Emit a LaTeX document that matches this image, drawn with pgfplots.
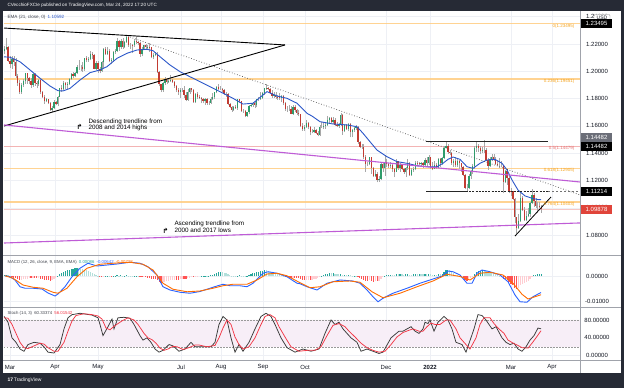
\documentclass[border=0pt]{standalone}
\usepackage{pgfplots}
\pgfplotsset{compat=1.18}
\usepackage{pgfplotstable}
\usepackage{fontspec}
\setmainfont{Liberation Sans}
\newfontfamily\dejavu{DejaVu Sans}
\newcommand{\fs}[1]{\fontsize{#1}{#1}\selectfont}
\definecolor{frame}{HTML}{262A35}
\definecolor{gridc}{HTML}{EEF0F5}
\definecolor{upc}{HTML}{2F9C6B}
\definecolor{dnc}{HTML}{C23B32}
\definecolor{wickc}{HTML}{A8A8A8}
\definecolor{emac}{HTML}{2B57C9}
\definecolor{fibo}{HTML}{FFCC80}
\definecolor{fibotext}{HTML}{F5A623}
\definecolor{fibr}{HTML}{F2A7A7}
\definecolor{fibrtext}{HTML}{E57373}
\definecolor{magc}{HTML}{BF5CD6}
\definecolor{macdc}{HTML}{2962FF}
\definecolor{sigc}{HTML}{FF6D00}
\definecolor{hg}{HTML}{26A69A}
\definecolor{hlg}{HTML}{B2DFDB}
\definecolor{hr}{HTML}{FF5252}
\definecolor{hp}{HTML}{FFCDD2}
\definecolor{stk}{HTML}{3A3A3A}
\definecolor{std}{HTML}{F23645}
\definecolor{band}{HTML}{F7EEF7}
\definecolor{pricered}{HTML}{E0443A}
\definecolor{boxgray}{HTML}{6B6E78}
\definecolor{sep}{HTML}{A0A3AB}
\definecolor{txt}{HTML}{131722}

\pgfplotstableread{
i o h l c
-3 1.2150 1.2185 1.2125 1.2165
-2 1.2165 1.2243 1.2155 1.2175
-1 1.2175 1.2185 1.2065 1.2075
0 1.2075 1.2113 1.2025 1.2050
1 1.2050 1.2110 1.2020 1.2090
2 1.2090 1.2113 1.2040 1.2065
3 1.2065 1.2095 1.1950 1.1965
4 1.1965 1.1980 1.1893 1.1915
5 1.1915 1.1935 1.1836 1.1845
6 1.1845 1.1915 1.1835 1.1900
7 1.1900 1.1945 1.1885 1.1930
8 1.1930 1.1990 1.1910 1.1985
9 1.1985 1.1990 1.1910 1.1950
10 1.1950 1.1960 1.1905 1.1930
11 1.1930 1.1950 1.1880 1.1900
12 1.1900 1.1990 1.1885 1.1980
13 1.1980 1.1990 1.1895 1.1915
14 1.1915 1.1930 1.1875 1.1905
15 1.1905 1.1945 1.1895 1.1935
16 1.1935 1.1942 1.1835 1.1850
17 1.1850 1.1855 1.1805 1.1815
18 1.1815 1.1830 1.1763 1.1780
19 1.1780 1.1805 1.1775 1.1795
20 1.1795 1.1800 1.1760 1.1765
21 1.1765 1.1775 1.1712 1.1720
22 1.1720 1.1745 1.1704 1.1730
23 1.1730 1.1790 1.1725 1.1775
24 1.1775 1.1785 1.1750 1.1760
25 1.1760 1.1820 1.1745 1.1815
26 1.1815 1.1880 1.1810 1.1875
27 1.1875 1.1900 1.1850 1.1870
28 1.1870 1.1930 1.1860 1.1915
29 1.1915 1.1925 1.1870 1.1900
30 1.1900 1.1920 1.1870 1.1910
31 1.1910 1.1950 1.1900 1.1945
32 1.1945 1.1990 1.1935 1.1980
33 1.1980 1.1995 1.1950 1.1965
34 1.1965 1.1995 1.1955 1.1985
35 1.1985 1.2048 1.1980 1.2035
36 1.2035 1.2080 1.2010 1.2035
37 1.2035 1.2045 1.2000 1.2035
38 1.2035 1.2070 1.1995 1.2015
39 1.2015 1.2100 1.2005 1.2095
40 1.2095 1.2115 1.2065 1.2080
41 1.2080 1.2105 1.2070 1.2090
42 1.2090 1.2150 1.2080 1.2125
43 1.2125 1.2140 1.2090 1.2120
44 1.2120 1.2130 1.2015 1.2020
45 1.2020 1.2075 1.2010 1.2060
46 1.2060 1.2075 1.1990 1.2015
47 1.2015 1.2030 1.1985 1.2005
48 1.2005 1.2075 1.1995 1.2065
49 1.2065 1.2172 1.2025 1.2165
50 1.2165 1.2180 1.2120 1.2130
51 1.2130 1.2180 1.2120 1.2150
52 1.2150 1.2160 1.2065 1.2075
53 1.2075 1.2095 1.2050 1.2080
54 1.2080 1.2150 1.2070 1.2145
55 1.2145 1.2165 1.2125 1.2150
56 1.2150 1.2245 1.2140 1.2225
57 1.2225 1.2230 1.2150 1.2175
58 1.2175 1.2235 1.2165 1.2225
59 1.2225 1.2245 1.2165 1.2180
60 1.2180 1.2225 1.2170 1.2215
61 1.2215 1.2266 1.2210 1.2250
62 1.2250 1.2260 1.2180 1.2195
63 1.2195 1.2210 1.2165 1.2195
64 1.2195 1.2200 1.2135 1.2190
65 1.2190 1.2240 1.2180 1.2225
66 1.2225 1.2255 1.2200 1.2215
67 1.2215 1.2225 1.2190 1.2210
68 1.2210 1.2215 1.2105 1.2125
69 1.2125 1.2180 1.2110 1.2165
70 1.2165 1.2195 1.2155 1.2190
71 1.2190 1.2200 1.2165 1.2175
72 1.2175 1.2195 1.2165 1.2180
73 1.2180 1.2205 1.2145 1.2175
74 1.2175 1.2180 1.2095 1.2105
75 1.2105 1.2135 1.2090 1.2120
76 1.2120 1.2140 1.2110 1.2125
77 1.2125 1.2140 1.1985 1.1995
78 1.1995 1.2005 1.1890 1.1905
79 1.1905 1.1910 1.1847 1.1860
80 1.1860 1.1925 1.1850 1.1915
81 1.1915 1.1955 1.1900 1.1940
82 1.1940 1.1945 1.1905 1.1925
83 1.1925 1.1940 1.1915 1.1930
84 1.1930 1.1975 1.1920 1.1935
85 1.1935 1.1945 1.1915 1.1925
86 1.1925 1.1930 1.1880 1.1895
87 1.1895 1.1900 1.1850 1.1860
88 1.1860 1.1880 1.1830 1.1845
89 1.1845 1.1875 1.1805 1.1865
90 1.1865 1.1880 1.1850 1.1865
91 1.1865 1.1895 1.1805 1.1825
92 1.1825 1.1850 1.1780 1.1790
93 1.1790 1.1870 1.1785 1.1845
94 1.1845 1.1880 1.1835 1.1875
95 1.1875 1.1880 1.1845 1.1860
96 1.1860 1.1870 1.1770 1.1775
97 1.1775 1.1840 1.1770 1.1835
98 1.1835 1.1850 1.1795 1.1810
99 1.1810 1.1830 1.1795 1.1805
100 1.1805 1.1815 1.1765 1.1800
101 1.1800 1.1805 1.1765 1.1780
102 1.1780 1.1805 1.1755 1.1795
103 1.1795 1.1805 1.1755 1.1770
104 1.1770 1.1785 1.1755 1.1770
105 1.1770 1.1810 1.1760 1.1800
106 1.1800 1.1840 1.1790 1.1815
107 1.1815 1.1850 1.1800 1.1845
108 1.1845 1.1895 1.1840 1.1885
109 1.1885 1.1910 1.1865 1.1870
110 1.1870 1.1890 1.1860 1.1870
111 1.1870 1.1880 1.1850 1.1865
112 1.1865 1.1870 1.1825 1.1835
113 1.1835 1.1850 1.1815 1.1835
114 1.1835 1.1840 1.1755 1.1760
115 1.1760 1.1765 1.1730 1.1735
116 1.1735 1.1745 1.1705 1.1720
117 1.1720 1.1745 1.1710 1.1740
118 1.1740 1.1755 1.1725 1.1730
119 1.1730 1.1800 1.1720 1.1795
120 1.1795 1.1800 1.1770 1.1780
121 1.1780 1.1785 1.1705 1.1710
122 1.1710 1.1725 1.1695 1.1710
123 1.1710 1.1715 1.1665 1.1675
124 1.1675 1.1705 1.1665 1.1700
125 1.1700 1.1755 1.1690 1.1745
126 1.1745 1.1765 1.1735 1.1755
127 1.1755 1.1775 1.1740 1.1770
128 1.1770 1.1780 1.1730 1.1750
129 1.1750 1.1800 1.1735 1.1795
130 1.1795 1.1810 1.1780 1.1795
131 1.1795 1.1845 1.1790 1.1805
132 1.1805 1.1845 1.1800 1.1840
133 1.1840 1.1880 1.1830 1.1875
134 1.1875 1.1909 1.1860 1.1880
135 1.1880 1.1885 1.1860 1.1870
136 1.1870 1.1875 1.1835 1.1840
137 1.1840 1.1860 1.1805 1.1820
138 1.1820 1.1845 1.1805 1.1830
139 1.1830 1.1850 1.1800 1.1815
140 1.1815 1.1830 1.1790 1.1810
141 1.1810 1.1840 1.1790 1.1805
142 1.1805 1.1830 1.1775 1.1820
143 1.1820 1.1825 1.1750 1.1765
144 1.1765 1.1775 1.1710 1.1725
145 1.1725 1.1745 1.1700 1.1725
146 1.1725 1.1750 1.1710 1.1725
147 1.1725 1.1745 1.1685 1.1690
148 1.1690 1.1750 1.1680 1.1740
149 1.1740 1.1755 1.1700 1.1720
150 1.1720 1.1725 1.1680 1.1695
151 1.1695 1.1715 1.1670 1.1685
152 1.1685 1.1690 1.1595 1.1600
153 1.1600 1.1620 1.1565 1.1580
154 1.1580 1.1610 1.1565 1.1595
155 1.1595 1.1640 1.1585 1.1620
156 1.1620 1.1625 1.1575 1.1595
157 1.1595 1.1600 1.1530 1.1555
158 1.1555 1.1580 1.1545 1.1555
159 1.1555 1.1595 1.1545 1.1570
160 1.1570 1.1580 1.1540 1.1550
161 1.1550 1.1560 1.1524 1.1530
162 1.1530 1.1605 1.1525 1.1595
163 1.1595 1.1625 1.1585 1.1595
164 1.1595 1.1625 1.1575 1.1600
165 1.1600 1.1625 1.1580 1.1605
166 1.1605 1.1670 1.1600 1.1640
167 1.1640 1.1665 1.1620 1.1655
168 1.1655 1.1665 1.1620 1.1625
169 1.1625 1.1665 1.1615 1.1645
170 1.1645 1.1655 1.1600 1.1610
171 1.1610 1.1625 1.1590 1.1600
172 1.1600 1.1620 1.1585 1.1605
173 1.1605 1.1692 1.1600 1.1680
174 1.1680 1.1690 1.1535 1.1560
175 1.1560 1.1615 1.1555 1.1605
176 1.1605 1.1615 1.1570 1.1580
177 1.1580 1.1620 1.1560 1.1615
178 1.1615 1.1620 1.1515 1.1555
179 1.1555 1.1580 1.1515 1.1570
180 1.1570 1.1595 1.1555 1.1585
181 1.1585 1.1610 1.1570 1.1595
182 1.1595 1.1600 1.1470 1.1480
183 1.1480 1.1490 1.1435 1.1445
184 1.1445 1.1465 1.1430 1.1445
185 1.1445 1.1465 1.1360 1.1370
186 1.1370 1.1385 1.1265 1.1320
187 1.1320 1.1335 1.1305 1.1320
188 1.1320 1.1375 1.1310 1.1370
189 1.1370 1.1375 1.1250 1.1290
190 1.1290 1.1300 1.1225 1.1235
191 1.1235 1.1275 1.1225 1.1250
192 1.1250 1.1265 1.1186 1.1200
193 1.1200 1.1230 1.1190 1.1210
194 1.1210 1.1330 1.1205 1.1320
195 1.1320 1.1330 1.1260 1.1290
196 1.1290 1.1385 1.1235 1.1335
197 1.1335 1.1355 1.1300 1.1320
198 1.1320 1.1330 1.1295 1.1305
199 1.1305 1.1335 1.1290 1.1315
200 1.1315 1.1320 1.1265 1.1285
201 1.1285 1.1295 1.1225 1.1265
202 1.1265 1.1355 1.1260 1.1340
203 1.1340 1.1345 1.1280 1.1290
204 1.1290 1.1325 1.1265 1.1315
205 1.1315 1.1320 1.1275 1.1285
206 1.1285 1.1295 1.1250 1.1260
207 1.1260 1.1300 1.1225 1.1290
208 1.1290 1.1360 1.1280 1.1330
209 1.1330 1.1335 1.1235 1.1240
210 1.1240 1.1295 1.1235 1.1280
211 1.1280 1.1300 1.1265 1.1285
212 1.1285 1.1345 1.1275 1.1330
213 1.1330 1.1345 1.1305 1.1325
214 1.1325 1.1335 1.1310 1.1320
215 1.1320 1.1335 1.1305 1.1330
216 1.1330 1.1335 1.1290 1.1310
217 1.1310 1.1365 1.1305 1.1350
218 1.1350 1.1370 1.1300 1.1325
219 1.1325 1.1385 1.1315 1.1370
220 1.1370 1.1375 1.1285 1.1300
221 1.1300 1.1335 1.1275 1.1285
222 1.1285 1.1345 1.1285 1.1315
223 1.1315 1.1330 1.1285 1.1295
224 1.1295 1.1365 1.1290 1.1360
225 1.1360 1.1365 1.1300 1.1325
226 1.1325 1.1375 1.1315 1.1365
227 1.1365 1.1450 1.1355 1.1440
228 1.1440 1.1482 1.1435 1.1455
229 1.1455 1.1465 1.1395 1.1410
230 1.1410 1.1420 1.1385 1.1405
231 1.1405 1.1410 1.1315 1.1325
232 1.1325 1.1355 1.1300 1.1345
233 1.1345 1.1370 1.1300 1.1310
234 1.1310 1.1365 1.1300 1.1345
235 1.1345 1.1350 1.1285 1.1325
236 1.1325 1.1330 1.1265 1.1300
237 1.1300 1.1305 1.1235 1.1240
238 1.1240 1.1245 1.1135 1.1145
239 1.1145 1.1175 1.1121 1.1145
240 1.1145 1.1250 1.1140 1.1235
241 1.1235 1.1275 1.1210 1.1270
242 1.1270 1.1320 1.1250 1.1305
243 1.1305 1.1450 1.1285 1.1440
244 1.1440 1.1485 1.1410 1.1455
245 1.1455 1.1465 1.1410 1.1440
246 1.1440 1.1455 1.1395 1.1415
247 1.1415 1.1445 1.1400 1.1425
248 1.1425 1.1495 1.1400 1.1425
249 1.1425 1.1435 1.1340 1.1350
250 1.1350 1.1365 1.1280 1.1305
251 1.1305 1.1370 1.1300 1.1355
252 1.1355 1.1395 1.1340 1.1375
253 1.1375 1.1395 1.1345 1.1360
254 1.1360 1.1370 1.1315 1.1320
255 1.1320 1.1345 1.1305 1.1310
256 1.1310 1.1365 1.1290 1.1310
257 1.1310 1.1345 1.1300 1.1310
258 1.1310 1.1315 1.1106 1.1190
259 1.1190 1.1275 1.1180 1.1270
260 1.1270 1.1275 1.1170 1.1220
261 1.1220 1.1245 1.1105 1.1125
262 1.1125 1.1145 1.1090 1.1120
263 1.1120 1.1125 1.1055 1.1065
264 1.1065 1.1070 1.0885 1.0930
265 1.0930 1.0935 1.0806 1.0855
266 1.0855 1.0955 1.0845 1.0900
267 1.0900 1.1121 1.0895 1.1075
268 1.1075 1.1085 1.0975 1.0985
269 1.0985 1.1005 1.0905 1.0910
270 1.0910 1.0975 1.0900 1.0940
271 1.0940 1.1000 1.0930 1.0955
272 1.0955 1.1045 1.0935 1.1035
273 1.1035 1.1137 1.1025 1.1095
274 1.1095 1.1110 1.1005 1.1050
275 1.1050 1.1070 1.1000 1.1015
276 1.1015 1.1045 1.0965 1.1015
277 1.1015 1.1045 1.0995 1.1005
278 1.1005 1.1020 1.0965 1.0988
}\candles

\pgfplotstableread[row sep=\\]{
i v k\\
-3 0.0004 0\\ -2 0.0005 0\\ -1 0.0004 1\\ 0 0.0002 1\\ 1 -0.0002 2\\ 2 -0.0005 2\\ 3 -0.0008 2\\ 4 -0.0011 2\\
5 -0.0014 2\\ 6 -0.0013 3\\ 7 -0.0012 3\\ 8 -0.0010 3\\ 9 -0.0009 3\\ 10 -0.0008 3\\ 11 -0.0008 2\\ 12 -0.0006 3\\
13 -0.0007 2\\ 14 -0.0008 2\\ 15 -0.0007 3\\ 16 -0.0009 2\\ 17 -0.0011 2\\ 18 -0.0013 2\\ 19 -0.0015 2\\ 20 -0.0016 2\\
21 -0.0017 2\\ 22 -0.0014 3\\ 23 -0.0010 3\\ 24 -0.0005 3\\ 25 0.0001 0\\ 26 0.0008 0\\ 27 0.0013 0\\ 28 0.0018 0\\
29 0.0021 0\\ 30 0.0024 0\\ 31 0.0027 0\\ 32 0.0029 0\\ 33 0.0031 0\\ 34 0.0033 0\\ 35 0.0034 0\\ 36 0.0033 1\\
37 0.0031 1\\ 38 0.0028 1\\ 39 0.0027 1\\ 40 0.0024 1\\ 41 0.0020 1\\ 42 0.0017 1\\ 43 0.0014 1\\ 44 0.0010 1\\
45 0.0006 1\\ 46 0.0002 1\\ 47 -0.0002 2\\ 48 -0.0004 2\\ 49 -0.0002 3\\ 50 0.0001 0\\ 51 0.0002 0\\ 52 0.0001 1\\
53 -0.0001 2\\ 54 0.0001 0\\ 55 0.0002 0\\ 56 0.0004 0\\ 57 0.0003 1\\ 58 0.0004 0\\ 59 0.0003 1\\ 60 0.0003 0\\
61 0.0005 0\\ 62 0.0003 1\\ 63 0.0002 1\\ 64 0.0001 1\\ 65 0.0001 0\\ 66 0.0002 0\\ 67 0.0001 1\\ 68 -0.0003 2\\
69 -0.0004 2\\ 70 -0.0003 3\\ 71 -0.0004 2\\ 72 -0.0006 2\\ 73 -0.0006 2\\ 74 -0.0009 2\\ 75 -0.0010 2\\ 76 -0.0011 2\\
77 -0.0016 2\\ 78 -0.0021 2\\ 79 -0.0025 2\\ 80 -0.0024 3\\ 81 -0.0022 3\\ 82 -0.0020 3\\ 83 -0.0018 3\\ 84 -0.0016 3\\
85 -0.0014 3\\ 86 -0.0013 3\\ 87 -0.0013 2\\ 88 -0.0013 2\\ 89 -0.0011 3\\ 90 -0.0009 3\\ 91 -0.0009 2\\ 92 -0.0010 2\\
93 -0.0008 3\\ 94 -0.0005 3\\ 95 -0.0003 3\\ 96 -0.0004 2\\ 97 -0.0002 3\\ 98 -0.0001 3\\ 100 0.0002 0\\ 101 0.0002 0\\
102 0.0003 0\\ 103 0.0002 1\\ 104 0.0003 0\\ 105 0.0005 0\\ 106 0.0007 0\\ 107 0.0010 0\\ 108 0.0014 0\\ 109 0.0016 0\\
110 0.0017 0\\ 111 0.0016 1\\ 112 0.0015 1\\ 113 0.0012 1\\ 114 0.0008 1\\ 115 0.0005 1\\ 116 0.0003 1\\ 117 0.0002 1\\
118 0.0001 1\\ 119 0.0003 0\\ 120 0.0004 0\\ 121 0.0002 1\\ 122 0.0002 1\\ 123 0.0001 1\\ 124 0.0003 0\\ 125 0.0006 0\\
126 0.0009 0\\ 127 0.0012 0\\ 128 0.0014 0\\ 129 0.0017 0\\ 130 0.0019 0\\ 131 0.0021 0\\ 132 0.0023 0\\ 133 0.0024 0\\
134 0.0024 1\\ 135 0.0021 1\\ 136 0.0018 1\\ 137 0.0015 1\\ 138 0.0013 1\\ 139 0.0010 1\\ 140 0.0008 1\\ 141 0.0006 1\\
142 0.0005 1\\ 143 0.0002 1\\ 144 -0.0002 2\\ 145 -0.0004 2\\ 146 -0.0005 2\\ 147 -0.0007 2\\ 148 -0.0006 3\\ 149 -0.0006 2\\
150 -0.0007 2\\ 151 -0.0008 2\\ 152 -0.0011 2\\ 153 -0.0014 2\\ 154 -0.0015 2\\ 155 -0.0014 3\\ 156 -0.0013 3\\ 157 -0.0014 2\\
158 -0.0013 3\\ 159 -0.0011 3\\ 160 -0.0009 3\\ 161 -0.0008 3\\ 162 -0.0003 3\\ 163 0.0003 0\\ 164 0.0006 0\\ 165 0.0008 0\\
166 0.0011 0\\ 167 0.0013 0\\ 168 0.0012 1\\ 169 0.0013 0\\ 170 0.0011 1\\ 171 0.0009 1\\ 172 0.0008 1\\ 173 0.0011 0\\
174 0.0006 1\\ 175 0.0006 0\\ 176 0.0005 1\\ 177 0.0006 0\\ 178 0.0004 1\\ 179 0.0003 1\\ 180 0.0003 0\\ 181 0.0003 1\\
182 -0.0003 2\\ 183 -0.0007 2\\ 184 -0.0009 2\\ 185 -0.0013 2\\ 186 -0.0017 2\\ 187 -0.0018 2\\ 188 -0.0016 3\\ 189 -0.0019 2\\
190 -0.0021 2\\ 191 -0.0020 3\\ 192 -0.0020 2\\ 193 -0.0017 3\\ 194 -0.0009 3\\ 195 -0.0004 3\\ 196 0.0002 0\\ 197 0.0004 0\\
198 0.0006 0\\ 199 0.0007 0\\ 200 0.0007 1\\ 201 0.0006 1\\ 202 0.0009 0\\ 203 0.0008 1\\ 204 0.0009 0\\ 205 0.0008 1\\
206 0.0007 1\\ 207 0.0008 0\\ 208 0.0010 0\\ 209 0.0007 1\\ 210 0.0007 1\\ 211 0.0008 0\\ 212 0.0010 0\\ 213 0.0010 1\\
214 0.0010 0\\ 215 0.0010 1\\ 216 0.0009 1\\ 217 0.0011 0\\ 218 0.0010 1\\ 219 0.0011 0\\ 220 0.0008 1\\ 221 0.0006 1\\
222 0.0006 0\\ 223 0.0005 1\\ 224 0.0008 0\\ 225 0.0008 1\\ 226 0.0011 0\\ 227 0.0018 0\\ 228 0.0024 0\\ 229 0.0026 0\\
230 0.0025 1\\ 231 0.0019 1\\ 232 0.0013 1\\ 233 0.0006 1\\ 234 0.0004 1\\ 235 0.0001 1\\ 236 -0.0003 2\\ 237 -0.0008 2\\
238 -0.0015 2\\ 239 -0.0017 2\\ 240 -0.0012 3\\ 241 -0.0008 3\\ 242 -0.0003 3\\ 243 0.0008 0\\ 244 0.0016 0\\ 245 0.0021 0\\
246 0.0023 0\\ 247 0.0024 0\\ 248 0.0024 1\\ 249 0.0020 1\\ 250 0.0016 1\\ 251 0.0014 1\\ 252 0.0013 1\\ 253 0.0011 1\\
254 0.0008 1\\ 255 0.0005 1\\ 256 0.0002 1\\ 257 -0.0001 2\\ 258 -0.0010 2\\ 259 -0.0011 2\\ 260 -0.0015 2\\ 261 -0.0022 2\\
262 -0.0029 2\\ 263 -0.0036 2\\ 264 -0.0045 2\\ 265 -0.0050 2\\ 266 -0.0047 3\\ 267 -0.0036 3\\ 268 -0.0030 3\\ 269 -0.0027 3\\
270 -0.0023 3\\ 271 -0.0019 3\\ 272 -0.0012 3\\ 273 -0.0003 3\\ 274 0.0004 0\\ 275 0.0006 0\\ 276 0.0008 0\\ 277 0.0009 0\\
278 0.0009 0\\
}\hist

\pgfplotsset{tvaxis/.style={scale only axis, width=576pt, xmin=4, xmax=580,
  anchor=north west, axis line style={draw=none}, major tick length=0pt,
  xtick={10,55,98,181,221,263,305,386,430,511,552}, xticklabels={},
  yticklabel pos=right,
  yticklabel style={anchor=center, xshift=17pt, font=\fs{6}, text=txt,
    /pgf/number format/.cd, fixed, fixed zerofill, precision=5, assume math mode=true},
  grid=major, major grid style={gridc, line width=0.5pt},
  clip mode=individual}}

\begin{document}
\begin{tikzpicture}[x=1pt,y=1pt]
\fill[frame] (0pt,0pt) rectangle (624pt,388pt);
\fill[white] (3pt,15pt) rectangle (621pt,377pt);

% ---------------- main price panel ----------------
\begin{axis}[tvaxis, at={(4pt,377pt)}, height=244pt,
  ymin=1.06542, ymax=1.24418,
  ytick={1.08,1.10,1.12,1.14,1.16,1.18,1.20,1.22,1.24}]
\addplot[fibo, line width=1.6pt, opacity=0.85] coordinates {(4,1.23495) (580,1.23495)};
\addplot[fibo, line width=1.6pt, opacity=0.85] coordinates {(4,1.19451) (580,1.19451)};
\addplot[fibr, line width=1.6pt, opacity=0.85] coordinates {(4,1.14479) (580,1.14479)};
\addplot[fibo, line width=0.9pt, opacity=0.85] coordinates {(4,1.12905) (580,1.12905)};
\addplot[fibo, line width=1.6pt, opacity=0.85] coordinates {(4,1.10403) (580,1.10403)};
\addplot[pricered!30, line width=0.7pt] coordinates {(4,1.09878) (580,1.09878)};
% candles
\addplot[quiver={u=0, v=\thisrow{h}-\thisrow{l}}, draw=wickc, line width=0.45pt]
  table[x expr=10+1.912*\thisrow{i}, y=l] {\candles};
\addplot[quiver={u=0, v=\thisrow{c}-\thisrow{o}}, draw=upc, line width=1.3pt,
  restrict expr to domain={\thisrow{c}-\thisrow{o}}{0:1}]
  table[x expr=10+1.912*\thisrow{i}, y=o] {\candles};
\addplot[quiver={u=0, v=\thisrow{c}-\thisrow{o}}, draw=dnc, line width=1.3pt,
  restrict expr to domain={\thisrow{c}-\thisrow{o}}{-1:-0.00001}]
  table[x expr=10+1.912*\thisrow{i}, y=o] {\candles};
% EMA 21
\addplot[emac, line width=0.9pt] coordinates {
(4,1.2106)(10,1.2103)(20,1.2070)(30,1.2010)(40,1.1949)(50,1.1892)(58,1.1858)(63,1.1856)
(70,1.1875)(80,1.1936)(90,1.1990)(100,1.2010)(107,1.2034)(117,1.2095)(127,1.2132)(137,1.2156)
(147,1.2161)(153,1.2151)(160,1.2107)(170,1.2046)(180,1.1997)(190,1.1960)(200,1.1924)(210,1.1887)
(220,1.1851)(233,1.1802)(243,1.1760)(253,1.1766)(267,1.1851)(277,1.1819)(287,1.1802)(297,1.1766)
(307,1.1692)(312,1.1672)(320,1.1631)(333,1.1614)(347,1.1607)(357,1.1594)(363,1.1546)(370,1.1484)
(377,1.1423)(387,1.1374)(397,1.1338)(407,1.1326)(417,1.1308)(427,1.1301)(437,1.1301)(443,1.1326)
(448,1.1355)(453,1.1372)(460,1.1355)(467,1.1301)(473,1.1289)(480,1.1326)(487,1.1350)(495,1.1355)
(502,1.1326)(507,1.1277)(512,1.1204)(518,1.1130)(525,1.1087)(532,1.1070)(538,1.1060)(541,1.10592)};
% drawings
\addplot[black, line width=0.9pt] coordinates {(4,1.2317) (285,1.2193)};
\addplot[black, line width=0.9pt] coordinates {(4,1.1599) (285,1.2193)};
\addplot[black!70, dotted, line width=0.7pt] coordinates {(130,1.2251) (580,1.1094)};
\addplot[magc, line width=1.1pt] coordinates {(4,1.1607) (580,1.1189)};
\addplot[magc, line width=1.1pt] coordinates {(4,1.0742) (580,1.0889)};
\addplot[black!85, line width=1pt] coordinates {(426,1.14857) (548,1.14857)};
\addplot[black!85, line width=1pt] coordinates {(426,1.11214) (466,1.11214)};
\addplot[black!85, line width=1pt, dash pattern=on 2pt off 1.2pt] coordinates {(466,1.11214) (548,1.11214)};
\addplot[black!55, line width=0.5pt, dash pattern=on 2pt off 2pt] coordinates {(548,1.11214) (580,1.11214)};
\addplot[black, line width=0.8pt] coordinates {(515,1.0793) (551,1.1079)};
% fib labels
\node[anchor=east, font=\fs{4.5}, text=fibotext, yshift=-2.5pt] at (axis cs:578,1.23495) {0(1.23495)};
\node[anchor=east, font=\fs{4.5}, text=fibotext, yshift=-2.5pt] at (axis cs:578,1.19451) {0.236(1.19451)};
\node[anchor=east, font=\fs{4.5}, text=fibrtext, yshift=-2pt] at (axis cs:578,1.14479) {0.5(1.14479)};
\node[anchor=east, font=\fs{4.5}, text=fibotext, yshift=-2.5pt] at (axis cs:578,1.12905) {0.618(1.12905)};
\node[anchor=east, font=\fs{4.5}, text=fibotext, yshift=-2.5pt] at (axis cs:578,1.10403) {0.764(1.10403)};
\coordinate (bUSD) at (axis cs:602,1.23905);
\coordinate (b1) at (axis cs:596.5,1.23495);
\coordinate (b2) at (axis cs:596.5,1.14482);
\coordinate (b3) at (axis cs:596.5,1.11214);
\coordinate (b4) at (axis cs:596.5,1.09878);
\end{axis}

% ---------------- MACD panel ----------------
\begin{axis}[tvaxis, at={(4pt,133pt)}, height=52pt,
  ymin=-0.0122, ymax=0.0086, ytick={-0.01,0}, scaled y ticks=false]
\addplot[ycomb, draw=hg, line width=1.2pt, restrict expr to domain={\thisrow{k}}{-0.5:0.5}]
  table[x expr=10+1.912*\thisrow{i}, y=v] {\hist};
\addplot[ycomb, draw=hlg, line width=1.2pt, restrict expr to domain={\thisrow{k}}{0.5:1.5}]
  table[x expr=10+1.912*\thisrow{i}, y=v] {\hist};
\addplot[ycomb, draw=hr, line width=1.2pt, restrict expr to domain={\thisrow{k}}{1.5:2.5}]
  table[x expr=10+1.912*\thisrow{i}, y=v] {\hist};
\addplot[ycomb, draw=hp, line width=1.2pt, restrict expr to domain={\thisrow{k}}{2.5:3.5}]
  table[x expr=10+1.912*\thisrow{i}, y=v] {\hist};
\addplot[macdc, line width=0.9pt] coordinates {
(5,0.0003)(10,-0.0001)(15,-0.0014)(20,-0.0041)(25,-0.0047)(33,-0.0047)(42,-0.0050)(48,-0.0066)
(55,-0.0078)(58,-0.0070)(65,-0.0041)(72,-0.0001)(80,0.0033)(88,0.0053)(97,0.0042)(107,0.0046)
(117,0.0050)(130,0.0057)(140,0.0053)(148,0.0039)(157,0.0006)(163,-0.0041)(170,-0.0054)(180,-0.0063)
(190,-0.0067)(200,-0.0060)(210,-0.0047)(217,-0.0038)(223,-0.0031)(230,-0.0037)(240,-0.0037)(247,-0.0041)
(253,-0.0027)(263,0.0013)(268,0.0019)(277,0.0013)(287,-0.0001)(297,-0.0027)(300,-0.0029)(307,-0.0041)
(317,-0.0054)(327,-0.0027)(340,-0.0014)(353,-0.0018)(360,-0.0027)(367,-0.0054)(373,-0.0081)(378,-0.0101)
(383,-0.0087)(393,-0.0067)(407,-0.0047)(420,-0.0027)(433,-0.0010)(443,0.0003)(448,0.0022)(453,0.0019)
(460,0.0006)(467,-0.0027)(472,-0.0027)(477,0.0013)(482,0.0026)(490,0.0019)(500,0.0006)(508,-0.0021)
(515,-0.0074)(520,-0.0101)(527,-0.0103)(533,-0.0081)(541,-0.0064)};
\addplot[sigc, line width=0.9pt] coordinates {
(5,0.0003)(13,-0.0007)(23,-0.0034)(33,-0.0043)(43,-0.0047)(53,-0.0063)(58,-0.0067)(67,-0.0047)
(77,-0.0001)(87,0.0033)(100,0.0049)(113,0.0053)(130,0.0057)(143,0.0049)(153,0.0026)(163,-0.0027)
(173,-0.0051)(187,-0.0061)(200,-0.0058)(213,-0.0047)(223,-0.0037)(233,-0.0031)(247,-0.0031)(257,-0.0014)
(267,0.0010)(277,0.0013)(287,0.0003)(300,-0.0025)(310,-0.0045)(320,-0.0041)(333,-0.0021)(350,-0.0018)
(360,-0.0023)(372,-0.0061)(383,-0.0085)(400,-0.0067)(417,-0.0041)(433,-0.0018)(447,0.0009)(460,0.0000)
(470,-0.0014)(480,0.0013)(490,0.0017)(503,0.0006)(513,-0.0027)(522,-0.0071)(528,-0.0090)(541,-0.0073)};
\end{axis}

% ---------------- Stochastic panel ----------------
\begin{axis}[tvaxis, at={(4pt,81pt)}, height=53pt,
  ymin=-9.6, ymax=109.1, ytick={0,40,80},
  xticklabels={Mar,Apr,May,Jul,Aug,Sep,Oct,Dec,\textbf{2022},Mar,Apr},
  xticklabel style={anchor=center, yshift=-7pt, font=\fs{6}, text=txt}]
\addplot[draw=none, fill=band] coordinates {(4,20) (580,20) (580,80) (4,80) (4,20)};
\addplot[black!40, line width=0.5pt, dash pattern=on 1.5pt off 1.5pt] coordinates {(4,80) (580,80)};
\addplot[black!40, line width=0.5pt, dash pattern=on 1.5pt off 1.5pt] coordinates {(4,20) (580,20)};
\addplot[stk, line width=0.75pt] coordinates {
(4,88)(8,75)(12,40)(16,30)(20,15)(24,10)(28,25)(34,30)(40,28)(44,20)(48,8)(54,6)(60,25)(64,60)
(68,85)(72,92)(80,95)(86,93)(92,91)(98,85)(100,70)(103,45)(108,65)(112,82)(114,60)(118,85)(124,86)
(130,84)(134,70)(140,45)(143,35)(147,40)(151,30)(155,15)(159,8)(163,12)(169,25)(173,22)(179,10)
(185,15)(191,30)(195,20)(203,20)(211,20)(215,30)(219,70)(223,88)(227,80)(231,40)(235,8)(239,25)
(243,10)(249,30)(255,60)(261,88)(266,95)(271,88)(275,70)(281,40)(287,18)(295,8)(303,15)(311,10)
(319,15)(325,50)(331,80)(335,70)(339,75)(343,60)(347,50)(351,40)(357,30)(361,10)(367,15)(373,10)
(379,5)(383,8)(391,40)(399,55)(403,55)(407,60)(411,65)(415,55)(419,50)(423,60)(425,75)(428,72)
(430,80)(434,55)(438,75)(444,88)(448,80)(452,60)(456,30)(462,25)(466,8)(474,60)(478,92)(482,90)
(486,80)(492,60)(496,65)(502,40)(506,30)(510,25)(514,28)(518,15)(522,10)(526,20)(530,35)(534,45)
(538,62)(541,60.3)};
\addplot[std, line width=0.75pt] coordinates {
(4,85)(8,84)(12,70)(16,50)(20,30)(24,18)(28,16)(34,22)(40,28)(44,26)(48,18)(54,10)(58,10)(64,30)
(68,55)(72,78)(76,90)(84,94)(92,92)(98,89)(102,82)(106,62)(110,58)(114,66)(118,72)(122,78)(128,85)
(134,80)(138,70)(144,50)(148,40)(152,36)(156,28)(160,17)(164,12)(168,15)(173,21)(177,20)(183,14)
(189,18)(195,24)(199,24)(207,20)(215,23)(219,40)(223,62)(227,80)(231,70)(235,42)(239,25)(243,15)
(249,20)(255,40)(261,70)(265,88)(270,92)(275,85)(279,65)(285,42)(291,20)(299,10)(307,12)(315,12)
(321,20)(327,45)(333,68)(339,72)(345,65)(349,55)(355,42)(361,28)(367,18)(373,12)(379,8)(385,10)
(391,25)(397,42)(403,52)(409,57)(413,60)(419,55)(423,55)(427,65)(431,73)(435,70)(440,70)(446,80)
(450,80)(456,60)(460,40)(466,25)(470,15)(476,40)(480,70)(484,85)(490,85)(494,72)(498,62)(504,50)
(508,35)(514,27)(518,23)(522,18)(528,17)(532,28)(536,40)(541,56)};
\end{axis}

% separators
\draw[sep, line width=0.6pt] (3pt,133pt) -- (621pt,133pt);
\draw[sep, line width=0.6pt] (3pt,81pt) -- (621pt,81pt);
\draw[sep, line width=0.6pt] (3pt,28pt) -- (621pt,28pt);
\draw[sep, line width=0.6pt] (580pt,15pt) -- (580pt,377pt);

% price scale boxes
\node[draw=black!40, fill=white, rounded corners=1pt, font=\fs{5}, text=txt, inner sep=0.8pt, minimum width=16pt, minimum height=7pt] at (bUSD) {USD};
\node[fill=black, text=white, font=\fs{6}, minimum width=31pt, minimum height=8.6pt, inner sep=0pt] at (b1) {1.23495};
\node[fill=boxgray, text=white, font=\fs{6}, minimum width=31pt, minimum height=8.6pt, inner sep=0pt, yshift=9pt] at (b2) {1.14482};
\node[fill=black, text=white, font=\fs{6}, minimum width=31pt, minimum height=8.6pt, inner sep=0pt] at (b2) {1.14482};
\node[fill=black, text=white, font=\fs{6}, minimum width=31pt, minimum height=8.6pt, inner sep=0pt] at (b3) {1.11214};
\node[fill=pricered, text=white, font=\fs{6}, minimum width=31pt, minimum height=8.6pt, inner sep=0pt] at (b4) {1.09878};

% header / footer
\node[anchor=west, font=\fs{4.6}, text=white] at (4pt,382.5pt) {CVecchioFXCIe published on TradingView.com, Mar 24, 2022 17:20 UTC};
\node[anchor=west, font=\fs{5}, text=white] at (4pt,7.5pt) {\textbf{17}\,TradingView};

% legends
\node[anchor=west, font=\fs{4.6}, text=txt!80] at (4pt,371pt) {EMA (21, close, 0)\enspace\textcolor{emac}{1.10592}};
\node[anchor=west, font=\fs{4.3}, text=txt!80] at (4pt,126pt) {MACD (12, 26, close, 9, EMA, EMA)\enspace\textcolor{hg}{0.00086}\enspace\textcolor{macdc}{-0.00642}\enspace\textcolor{sigc}{-0.00728}};
\node[anchor=west, font=\fs{4.3}, text=txt!80] at (4pt,75pt) {Stoch (14, 3)\enspace 60.33374\enspace\textcolor{std}{56.01542}};

% annotations
\node[anchor=center, font=\dejavu\bfseries\fs{7}] at (79.5pt,261pt) {↱};
\node[anchor=west, font=\fs{6.3}, text=black] at (85pt,266.5pt) {Descending trendline from};
\node[anchor=west, font=\fs{6.3}, text=black] at (85pt,260pt) {2008 and 2014 highs};
\node[anchor=center, font=\dejavu\bfseries\fs{7}] at (165.5pt,157.5pt) {↱};
\node[anchor=west, font=\fs{6.3}, text=black] at (171pt,164pt) {Ascending trendline from};
\node[anchor=west, font=\fs{6.3}, text=black] at (171pt,157.5pt) {2000 and 2017 lows};

\pgfresetboundingbox
\useasboundingbox (0pt,0pt) rectangle (624pt,388pt);
\end{tikzpicture}
\end{document}
